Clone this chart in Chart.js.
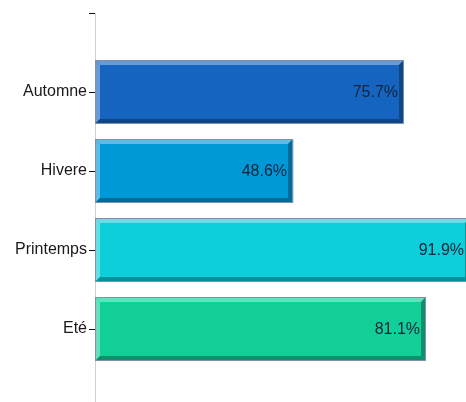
<!DOCTYPE html>
<html>
<head>
<meta charset="utf-8">
<script src="https://cdn.jsdelivr.net/npm/chart.js@4.4.1/dist/chart.umd.min.js"></script>
<style>
  html, body { margin: 0; padding: 0; background: #ffffff; overflow: hidden; width: 466px; height: 402px; }
  #wrap { position: absolute; left: 0; top: 0; width: 503px; height: 408px; }
  canvas { display: block; }
</style>
</head>
<body>
<div id="wrap"><canvas id="c" width="503" height="408"></canvas></div>
<script>
// ---- data ----
const categories = ['Automne', 'Hivere', 'Printemps', 'Eté'];
const values = [75.7, 48.6, 91.9, 81.1];
const valueLabels = ['75.7%', '48.6%', '91.9%', '81.1%'];
const barColors = ['#1565C0', '#0099D8', '#0CCFD9', '#12CF98'];

// padded with an empty slot above and below, as in the reference axis
const axisLabels = [''].concat(categories, ['']);
const axisValues = [null].concat(values, [null]);
const axisColors = ['rgba(0,0,0,0)'].concat(barColors, ['rgba(0,0,0,0)']);
const axisValueLabels = [''].concat(valueLabels, ['']);

function mix(hex, target, t) {
  const n = parseInt(hex.slice(1), 16);
  const r = (n >> 16) & 255, g = (n >> 8) & 255, b = n & 255;
  const m = (c) => Math.round(c + (target - c) * t);
  return 'rgb(' + m(r) + ',' + m(g) + ',' + m(b) + ')';
}

const bevelPlugin = {
  id: 'bevel',
  afterDatasetsDraw(chart) {
    const ctx = chart.ctx;
    const meta = chart.getDatasetMeta(0);
    meta.data.forEach((el, i) => {
      if (axisValues[i] === null) return;
      const p = el.getProps(['x', 'y', 'base', 'height'], true);
      const L = Math.round(p.base), R = Math.round(p.x);
      const T = Math.round(p.y - p.height / 2), B = Math.round(p.y + p.height / 2);
      const col = axisColors[i];
      const light = mix(col, 255, 0.35);
      const dark = mix(col, 0, 0.3);
      const b = 5;
      ctx.save();
      const poly = (pts, fill) => {
        ctx.beginPath();
        ctx.moveTo(pts[0][0], pts[0][1]);
        for (let k = 1; k < pts.length; k++) ctx.lineTo(pts[k][0], pts[k][1]);
        ctx.closePath();
        ctx.fillStyle = fill;
        ctx.fill();
      };
      poly([[L, T], [R, T], [R - b, T + b], [L + b, T + b]], light);
      poly([[L, T], [L + b, T + b], [L + b, B - b], [L, B]], light);
      poly([[L, B], [L + b, B - b], [R - b, B - b], [R, B]], dark);
      poly([[R, T], [R, B], [R - b, B - b], [R - b, T + b]], dark);
      ctx.strokeStyle = '#8090a8';
      ctx.lineWidth = 1;
      ctx.strokeRect(L + 0.5, T + 0.5, R - L - 1, B - T - 1);
      ctx.font = '16px "Liberation Sans", Arial, sans-serif';
      ctx.fillStyle = '#17233a';
      ctx.textAlign = 'right';
      ctx.textBaseline = 'middle';
      ctx.fillText(axisValueLabels[i], R - 6, p.y + 1);
      ctx.restore();
    });
  }
};

new Chart(document.getElementById('c'), {
  type: 'bar',
  data: {
    labels: axisLabels,
    datasets: [{
      data: axisValues,
      backgroundColor: axisColors,
      borderWidth: 0,
      barPercentage: 0.8,
      categoryPercentage: 1.0
    }]
  },
  options: {
    indexAxis: 'y',
    responsive: false,
    animation: false,
    devicePixelRatio: 1,
    layout: { padding: { top: 13, right: 0, bottom: 0, left: 0 } },
    plugins: { legend: { display: false }, tooltip: { enabled: false } },
    scales: {
      x: { display: false, min: 0, max: 100 },
      y: {
        type: 'category',
        offset: false,
        grid: { offset: false, drawOnChartArea: false, drawTicks: true, tickLength: 6, color: '#111111' },
        border: { display: true, color: '#d0d0d0', width: 1 },
        ticks: {
          autoSkip: false,
          padding: 2,
          color: '#1a1a1a',
          font: { family: '"Liberation Sans", Arial, sans-serif', size: 16 }
        },
        afterFit(scale) { scale.width = 95; scale.paddingTop = 0; scale.paddingBottom = 0; }
      }
    }
  },
  plugins: [bevelPlugin]
});
</script>
</body>
</html>
